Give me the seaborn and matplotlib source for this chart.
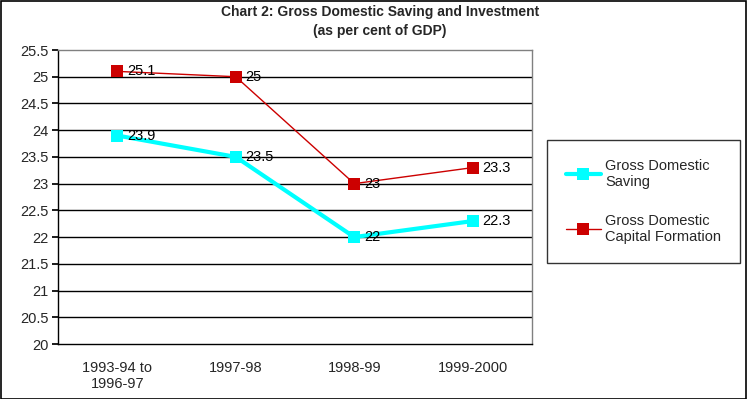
import matplotlib.pyplot as plt
import pandas as pd
import seaborn as sns
from matplotlib.patches import Rectangle

periods = ["1993-94 to\n1996-97", "1997-98", "1998-99", "1999-2000"]
saving = [23.9, 23.5, 22.0, 22.3]
investment = [25.1, 25.0, 23.0, 23.3]
saving_labels = ["23.9", "23.5", "22", "22.3"]
investment_labels = ["25.1", "25", "23", "23.3"]
series_names = ["Gross Domestic\nSaving", "Gross Domestic\nCapital Formation"]
y_ticks = [20, 20.5, 21, 21.5, 22, 22.5, 23, 23.5, 24, 24.5, 25, 25.5]
y_tick_labels = ["20", "20.5", "21", "21.5", "22", "22.5", "23", "23.5", "24", "24.5", "25", "25.5"]

df = pd.DataFrame({
    "x": list(range(len(periods))) * 2,
    "value": saving + investment,
    "series": [series_names[0]] * len(periods) + [series_names[1]] * len(periods),
})

sns.set_theme(style="white")
plt.rcParams["font.family"] = ["Liberation Sans", "DejaVu Sans"]

W, H = 747, 399
fig = plt.figure(figsize=(W / 100, H / 100), dpi=100)
ax = fig.add_axes([58 / W, 1 - 344 / H, (532 - 58) / W, (344 - 50) / H])

palette = {series_names[0]: "#00FFFF", series_names[1]: "#CC0000"}
widths = {series_names[0]: 3.0, series_names[1]: 1.0}
for name in series_names:
    sub = df[df["series"] == name]
    sns.lineplot(data=sub, x="x", y="value", color=palette[name], lw=widths[name],
                 marker="s", markersize=9, markeredgewidth=0,
                 markerfacecolor=palette[name], label=name, ax=ax)

for vals, labs in [(saving, saving_labels), (investment, investment_labels)]:
    for i, (v, t) in enumerate(zip(vals, labs)):
        ax.annotate(t, (i, v), xytext=(7, 0), textcoords="offset points",
                    ha="left", va="center", fontsize=10.5, color="black")

ax.set_xlim(-0.5, len(periods) - 0.5)
ax.set_ylim(20, 25.5)
ax.set_yticks(y_ticks)
ax.set_yticklabels(y_tick_labels, fontsize=10.5)
ax.set_xticks(range(len(periods)))
ax.set_xticklabels(periods, fontsize=10.5)
ax.set_xticks([0.5, 1.5, 2.5], minor=True)
ax.tick_params(axis="x", which="major", length=0, pad=12)
ax.tick_params(axis="x", which="minor", length=4, color="black", direction="in")
ax.tick_params(axis="y", length=4, color="black", direction="out", pad=3, left=True)
ax.set_xlabel("")
ax.set_ylabel("")
for y in y_ticks[1:-1]:
    ax.axhline(y, color="black", lw=1, zorder=0)

for side in ["left", "bottom"]:
    ax.spines[side].set_color("black")
    ax.spines[side].set_linewidth(1)
for side in ["top", "right"]:
    ax.spines[side].set_color("#808080")
    ax.spines[side].set_linewidth(1)

fig.text(380 / W, 1 - 12 / H, "Chart 2: Gross Domestic Saving and Investment",
         ha="center", va="center", fontsize=10, fontweight="bold")
fig.text(380 / W, 1 - 31 / H, "(as per cent of GDP)",
         ha="center", va="center", fontsize=10, fontweight="bold")

handles, labels = ax.get_legend_handles_labels()
leg = fig.legend(handles, labels, loc="upper left",
                 bbox_to_anchor=(547 / W, 1 - 140 / H), bbox_transform=fig.transFigure,
                 frameon=True, fancybox=False, edgecolor="black", fontsize=10.5,
                 handlelength=2.4, handletextpad=0.3, labelspacing=1.7,
                 borderpad=1.3, borderaxespad=0)
leg.get_frame().set_linewidth(1)
ax.get_legend().remove()

fig.patches.append(Rectangle((0.5 / W, 0.5 / H), 1 - 1.5 / W, 1 - 1.5 / H,
                             transform=fig.transFigure, fill=False,
                             edgecolor="black", lw=1.2))

fig.savefig("out.png", dpi=100)
